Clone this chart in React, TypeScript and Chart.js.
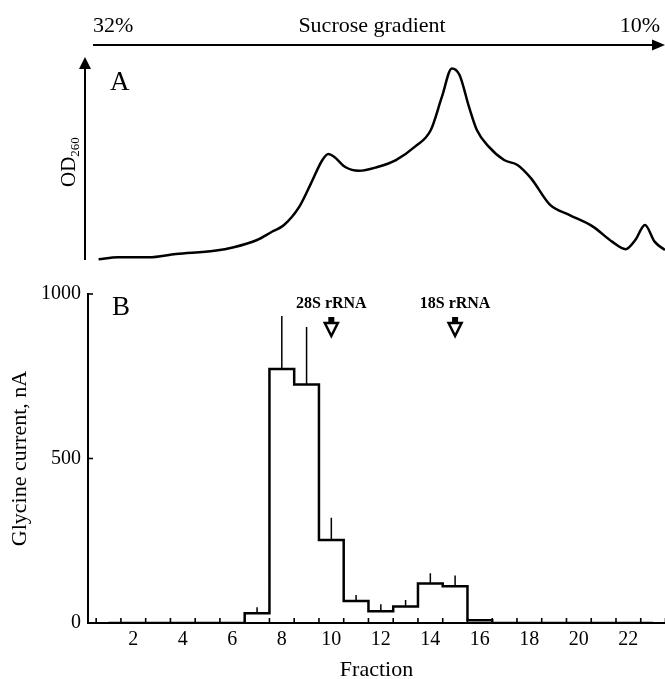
import React, { useEffect, useRef } from 'react';
import { Chart, registerables } from 'chart.js';

Chart.register(...registerables);

const SERIF = "'Liberation Serif', 'Times New Roman', serif";

// Panel A: OD260 trace across the gradient (fraction position, OD in relative units)
const odFraction = [
  0.6, 1.38, 2.63, 3.72, 5.28, 6.06, 7.0, 7.6, 8.09, 8.71, 9.18, 9.64, 9.88, 10.11,
  10.58, 11.12, 11.83, 12.61, 13.38, 14.02, 14.47, 14.87, 15.18, 15.56, 15.88, 16.36,
  16.98, 17.52, 18.07, 18.84, 19.63, 20.57, 21.34, 21.89, 22.28, 22.67, 23.06, 23.48,
];
const odValue = [
  0.008, 0.018, 0.018, 0.034, 0.05, 0.067, 0.102, 0.142, 0.175, 0.264, 0.377, 0.49,
  0.519, 0.506, 0.455, 0.438, 0.455, 0.49, 0.555, 0.636, 0.798, 0.935, 0.903, 0.749,
  0.636, 0.555, 0.49, 0.466, 0.401, 0.272, 0.223, 0.167, 0.094, 0.057, 0.102, 0.175,
  0.094, 0.053,
];

// Panel B: glycine current per fraction
const fractions = [1, 2, 3, 4, 5, 6, 7, 8, 9, 10, 11, 12, 13, 14, 15, 16, 17, 18, 19, 20, 21, 22, 23];
const glycineCurrent = [0, 0, 0, 0, 0, 0, 30, 772, 725, 252, 67, 36, 50, 120, 112, 8, 0, 0, 0, 0, 0, 0, 0];
const glycineError = [0, 0, 0, 0, 0, 0, 18, 161, 175, 68, 18, 21, 20, 31, 32, 0, 0, 0, 0, 0, 0, 0, 0];

const xLabelTicks = [2, 4, 6, 8, 10, 12, 14, 16, 18, 20, 22];
const yLabelTicks = [0, 500, 1000];
const rnaMarkerFraction = [10, 15];
const rnaMarkerLabel = ['28S rRNA', '18S rRNA'];
const gradientStart = '32%';
const gradientEnd = '10%';
const gradientTitle = 'Sucrose gradient';

const X_MAX = 23.48;
const X_MIN_A = 0.05;
const X_MIN_B = 0.17;

const panelAPlugin = {
  id: 'panelADecor',
  afterDraw(chart: any) {
    const { ctx, chartArea } = chart;
    const ax = chartArea.left;
    ctx.save();
    ctx.strokeStyle = '#000';
    ctx.fillStyle = '#000';
    ctx.lineWidth = 2;
    // vertical OD arrow
    ctx.beginPath();
    ctx.moveTo(ax, chartArea.bottom - 1);
    ctx.lineTo(ax, chartArea.top + 12);
    ctx.stroke();
    ctx.beginPath();
    ctx.moveTo(ax, chartArea.top + 2);
    ctx.lineTo(ax - 6, chartArea.top + 14);
    ctx.lineTo(ax + 6, chartArea.top + 14);
    ctx.closePath();
    ctx.fill();
    // gradient arrow
    const hy = 45;
    ctx.lineWidth = 2.2;
    ctx.beginPath();
    ctx.moveTo(93, hy);
    ctx.lineTo(655, hy);
    ctx.stroke();
    ctx.beginPath();
    ctx.moveTo(665, hy);
    ctx.lineTo(652, hy - 5.5);
    ctx.lineTo(652, hy + 5.5);
    ctx.closePath();
    ctx.fill();
    // gradient texts
    ctx.font = `22px ${SERIF}`;
    ctx.textBaseline = 'alphabetic';
    ctx.textAlign = 'left';
    ctx.fillText(gradientStart, 93, 32);
    ctx.textAlign = 'center';
    ctx.fillText(gradientTitle, 372, 32);
    ctx.textAlign = 'right';
    ctx.fillText(gradientEnd, 660, 32);
    // panel letter
    ctx.font = `27px ${SERIF}`;
    ctx.textAlign = 'left';
    ctx.fillText('A', 110, 90);
    // OD260 label
    ctx.translate(75, 187);
    ctx.rotate(-Math.PI / 2);
    ctx.font = `21px ${SERIF}`;
    ctx.fillText('OD', 0, 0);
    const w = ctx.measureText('OD').width;
    ctx.font = `13px ${SERIF}`;
    ctx.fillText('260', w, 4);
    ctx.restore();
  },
};

const panelBPlugin = {
  id: 'panelBDecor',
  afterDraw(chart: any) {
    const { ctx, chartArea } = chart;
    const x = chart.scales.x;
    const y = chart.scales.y;
    ctx.save();
    ctx.strokeStyle = '#000';
    ctx.fillStyle = '#000';
    ctx.lineWidth = 1.6;
    // inward tick marks at fraction boundaries
    const edges = fractions.map((f) => f - 0.5).concat([fractions[fractions.length - 1] + 0.5]);
    for (const e of edges) {
      const px = x.getPixelForValue(e);
      if (px < chartArea.left + 2 || px > chartArea.right + 1) continue;
      ctx.beginPath();
      ctx.moveTo(px, chartArea.bottom);
      ctx.lineTo(px, chartArea.bottom - 5);
      ctx.stroke();
    }
    // inward y ticks
    for (const v of yLabelTicks) {
      const py = y.getPixelForValue(v);
      ctx.beginPath();
      ctx.moveTo(chartArea.left, py);
      ctx.lineTo(chartArea.left + 5, py);
      ctx.stroke();
    }
    // rRNA markers
    rnaMarkerFraction.forEach((f, i) => {
      const px = x.getPixelForValue(f);
      ctx.fillStyle = '#000';
      ctx.font = `bold 16px ${SERIF}`;
      ctx.textAlign = 'center';
      ctx.textBaseline = 'alphabetic';
      ctx.fillText(rnaMarkerLabel[i], px, chartArea.top + 14);
      ctx.fillRect(px - 3, chartArea.top + 23, 6, 7);
      ctx.beginPath();
      ctx.moveTo(px - 6.5, chartArea.top + 29);
      ctx.lineTo(px + 6.5, chartArea.top + 29);
      ctx.lineTo(px, chartArea.top + 42);
      ctx.closePath();
      ctx.fillStyle = '#fff';
      ctx.fill();
      ctx.lineWidth = 2.5;
      ctx.stroke();
    });
    // panel letter
    ctx.fillStyle = '#000';
    ctx.font = `27px ${SERIF}`;
    ctx.textAlign = 'left';
    ctx.fillText('B', 112, chartArea.top + 21);
    ctx.restore();
  },
};

export default function App() {
  const topRef = useRef<HTMLCanvasElement>(null);
  const bottomRef = useRef<HTMLCanvasElement>(null);

  useEffect(() => {
    const top = new Chart(topRef.current as HTMLCanvasElement, {
      type: 'line',
      data: {
        datasets: [
          {
            data: odFraction.map((f, i) => ({ x: f, y: odValue[i] })),
            borderColor: '#000',
            borderWidth: 2.5,
            pointRadius: 0,
            cubicInterpolationMode: 'monotone',
            fill: false,
            clip: false as any,
          },
        ],
      },
      options: {
        responsive: false,
        animation: false,
        layout: { padding: { left: 85, top: 55, right: 0, bottom: 9 } },
        plugins: { legend: { display: false }, tooltip: { enabled: false } },
        scales: {
          x: { type: 'linear', display: false, min: X_MIN_A, max: X_MAX },
          y: { display: false, min: 0, max: 1 },
        },
      },
      plugins: [panelAPlugin],
    });

    const errSegments: any[] = [];
    fractions.forEach((f, i) => {
      if (glycineError[i] > 0) {
        errSegments.push({ x: f, y: glycineCurrent[i] });
        errSegments.push({ x: f, y: glycineCurrent[i] + glycineError[i] });
        errSegments.push({ x: f, y: null });
      }
    });

    const bottom = new Chart(bottomRef.current as HTMLCanvasElement, {
      type: 'line',
      data: {
        datasets: [
          {
            data: fractions.map((f, i) => ({ x: f, y: glycineCurrent[i] })),
            borderColor: '#000',
            borderWidth: 2.5,
            pointRadius: 0,
            stepped: 'middle',
            fill: false,
          },
          {
            data: errSegments,
            borderColor: '#000',
            borderWidth: 1.5,
            pointRadius: 0,
            spanGaps: false,
            fill: false,
          },
        ],
      },
      options: {
        responsive: false,
        animation: false,
        layout: { padding: { left: 0, top: 24, right: 0, bottom: 0 } },
        plugins: { legend: { display: false }, tooltip: { enabled: false } },
        scales: {
          x: {
            type: 'linear',
            min: X_MIN_B,
            max: X_MAX,
            afterBuildTicks: (s: any) => {
              s.ticks = xLabelTicks.map((v) => ({ value: v }));
            },
            afterFit: (s: any) => {
              s.height = 56;
            },
            grid: { display: false, drawTicks: false },
            border: { display: true, color: '#000', width: 2 },
            ticks: {
              color: '#000',
              font: { family: SERIF, size: 20 },
              padding: 5,
              maxRotation: 0,
              autoSkip: false,
              callback: (v: any) => String(v),
            },
            title: {
              display: true,
              text: 'Fraction',
              color: '#000',
              font: { family: SERIF, size: 22, lineHeight: 0.8 },
              padding: { top: 0, bottom: 0 },
            },
          },
          y: {
            min: 0,
            max: 1000,
            afterBuildTicks: (s: any) => {
              s.ticks = yLabelTicks.map((v) => ({ value: v }));
            },
            afterFit: (s: any) => {
              s.width = 88;
            },
            grid: { display: false, drawTicks: false },
            border: { display: true, color: '#000', width: 2 },
            ticks: {
              color: '#000',
              font: { family: SERIF, size: 20 },
              padding: 7,
              callback: (v: any) => String(v),
            },
            title: {
              display: true,
              text: 'Glycine current, nA',
              color: '#000',
              font: { family: SERIF, size: 22 },
              padding: { top: 7, bottom: 0 },
            },
          },
        },
      },
      plugins: [panelBPlugin],
    });

    return () => {
      top.destroy();
      bottom.destroy();
    };
  }, []);

  return (
    <div style={{ position: 'absolute', left: 0, top: 0, width: 665, height: 679, background: '#fff' }}>
      <canvas ref={topRef} width={665} height={270} style={{ display: 'block' }} />
      <canvas ref={bottomRef} width={665} height={409} style={{ display: 'block' }} />
    </div>
  );
}
